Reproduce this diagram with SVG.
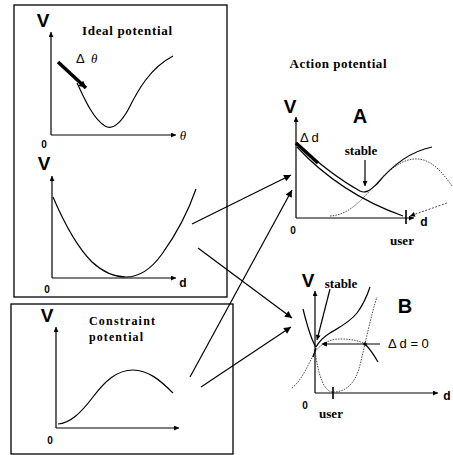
<svg xmlns="http://www.w3.org/2000/svg" width="453" height="455" viewBox="0 0 453 455">
<defs>
<marker id="ah" viewBox="0 0 10 10" refX="10" refY="5" markerWidth="7" markerHeight="5" markerUnits="userSpaceOnUse" orient="auto"><path d="M0,0 L10,5 L0,10 z" fill="#000"/></marker>
<marker id="ahb" viewBox="0 0 10 10" refX="10" refY="5" markerWidth="9" markerHeight="7" markerUnits="userSpaceOnUse" orient="auto"><path d="M0,0 L10,5 L0,10 z" fill="#000"/></marker>
</defs>
<style>
.box{fill:none;stroke:#000;stroke-width:1.3}
.ax{fill:none;stroke:#000;stroke-width:1.2;marker-end:url(#ah)}
.cv{fill:none;stroke:#000;stroke-width:1.2}
.dt{fill:none;stroke:#333;stroke-width:0.9;stroke-dasharray:1.5 1.2}
.con{fill:none;stroke:#000;stroke-width:1.2;marker-end:url(#ahb)}
.V{font-family:"Liberation Sans",Arial,sans-serif;font-weight:bold;font-size:19px}
.AB{font-family:"Liberation Sans",Arial,sans-serif;font-weight:bold;font-size:20px}
.lab{font-family:"Liberation Sans",Arial,sans-serif;font-weight:bold;font-size:12px}
.z{font-family:"Liberation Sans",Arial,sans-serif;font-weight:bold;font-size:10px}
.ttl{font-family:"Liberation Serif","Times New Roman",serif;font-weight:bold;font-size:13px}
.ttl2{font-family:"Liberation Serif","Times New Roman",serif;font-weight:bold;font-size:12px}
.sm{font-family:"Liberation Serif","Times New Roman",serif;font-weight:bold;font-size:13px}
.th{font-family:"Liberation Serif","Times New Roman",serif;font-style:italic;font-size:13px}
.dl{font-family:"Liberation Sans",Arial,sans-serif;font-size:13px}
</style>
<rect width="453" height="455" fill="#fff"/>

<g id="ideal-box">
<rect class="box" x="14" y="5" width="213" height="292"/>
<text class="ttl" x="127" y="35" text-anchor="middle" textLength="90" lengthAdjust="spacing">Ideal potential</text>
</g>

<g id="ideal-theta">
<text class="V" x="43" y="27" text-anchor="middle">V</text>
<line class="ax" x1="51" y1="135" x2="51" y2="32"/>
<line class="ax" x1="51" y1="135" x2="176" y2="135"/>
<text class="th" x="183" y="140" text-anchor="middle">θ</text>
<text class="z" x="44" y="148" text-anchor="middle">0</text>
<text class="dl" x="76" y="63">Δ</text>
<text class="th" x="91" y="63">θ</text>
<path class="cv" d="M77,83 C83,95 92,118 105,126 C112,130 120,124 128,110 C138,90 150,68 173,56"/>
<line x1="58" y1="62" x2="86" y2="88" stroke="#000" stroke-width="3.5" marker-end="url(#ahb)"/>
</g>

<g id="ideal-d">
<text class="V" x="44" y="170" text-anchor="middle">V</text>
<line class="ax" x1="52" y1="278" x2="52" y2="176"/>
<line class="ax" x1="52" y1="278" x2="176" y2="278"/>
<text class="lab" x="183" y="287" text-anchor="middle">d</text>
<text class="z" x="47" y="293" text-anchor="middle">0</text>
<path class="cv" d="M53,197 C62,218 75,245 92,262 C104,273 116,277 126,277 C140,277 152,268 162,254 C175,236 188,212 196,189"/>
</g>

<g id="constraint-box">
<rect class="box" x="11" y="304" width="222" height="150"/>
<text class="V" x="47" y="322" text-anchor="middle">V</text>
<text class="ttl2" x="89" y="325" textLength="66" lengthAdjust="spacing">Constraint</text>
<text class="ttl2" x="89" y="341" textLength="54" lengthAdjust="spacing">potential</text>
<line class="ax" x1="56" y1="428" x2="56" y2="327"/>
<line class="ax" x1="56" y1="428" x2="179" y2="428"/>
<text class="z" x="50" y="444" text-anchor="middle">0</text>
<path class="cv" d="M58,424 C70,423 80,414 93,397 C105,381 117,370 133,370 C148,370 160,380 173,393"/>
</g>

<text class="ttl" x="338" y="68" text-anchor="middle" textLength="97" lengthAdjust="spacing">Action potential</text>

<g id="action-A">
<text class="V" x="290" y="113" text-anchor="middle">V</text>
<text class="AB" x="360" y="123" text-anchor="middle">A</text>
<line class="ax" x1="296" y1="218" x2="296" y2="117"/>
<line class="ax" x1="296" y1="218" x2="414" y2="218"/>
<text class="lab" x="424" y="226" text-anchor="middle">d</text>
<text class="z" x="293" y="234" text-anchor="middle">0</text>
<text class="sm" x="402" y="245" text-anchor="middle">user</text>
<text class="dl" x="300" y="142">Δ d</text>
<text class="sm" x="361" y="155" text-anchor="middle">stable</text>
<line class="ax" x1="365" y1="160" x2="365" y2="186"/>
<path class="dt" d="M330,216 C348,215 360,202 375,185 C390,168 404,158 418,159 C432,160 442,172 452,186"/>
<path class="cv" stroke-width="0.9" d="M297,147 C322,174 358,200 403,216"/>
<path class="cv" d="M296,143 C318,163 340,180 360,191 C366,194 370,190 377,184 C390,168 408,152 432,147"/>
<line x1="296" y1="143" x2="318" y2="163" stroke="#000" stroke-width="3.5"/>
<line x1="406" y1="210" x2="406" y2="224" stroke="#000" stroke-width="1.6"/>
<line x1="447" y1="203" x2="410" y2="216" stroke="#333" stroke-width="0.9" stroke-dasharray="2 1.5" marker-end="url(#ah)"/>
</g>

<g id="action-B">
<text class="V" x="308" y="287" text-anchor="middle">V</text>
<text class="sm" x="341" y="288" text-anchor="middle">stable</text>
<text class="AB" x="405" y="313" text-anchor="middle">B</text>
<text class="dl" x="388" y="348">Δ d = 0</text>
<line class="ax" x1="315" y1="393" x2="315" y2="291"/>
<line class="ax" x1="315" y1="393" x2="438" y2="393"/>
<text class="lab" x="447" y="400" text-anchor="middle">d</text>
<text class="z" x="305" y="409" text-anchor="middle">0</text>
<text class="sm" x="331" y="418" text-anchor="middle">user</text>
<path class="dt" d="M292,388 C302,380 308,365 315,352 C322,342 332,339 340,339 C352,339 360,341 365,344"/>
<path class="dt" d="M315,350 C318,375 324,392 333,392 C345,392 355,385 360,365 C365,345 371,315 377,297"/>
<path class="cv" d="M365,344 C370,349 374,355 378,362"/>
<path class="cv" d="M303,309 C307,325 311,340 316,347"/>
<path class="cv" d="M313,357 L316,348"/>
<path class="cv" d="M316,347 C320,340 325,336 330,333 C340,327 350,322 357,313 C363,305 367,296 370,287"/>
<line class="ax" x1="380" y1="344" x2="322" y2="344"/>
<circle cx="325" cy="344" r="1.8" fill="#000"/>
<circle cx="365" cy="344" r="1.8" fill="#000"/>
<line class="ax" x1="330" y1="289" x2="317" y2="340"/>
<line x1="333" y1="387" x2="333" y2="399" stroke="#000" stroke-width="1.6"/>
</g>

<g id="connectors">
<line class="con" x1="192" y1="224" x2="291" y2="175"/>
<line class="con" x1="198" y1="248" x2="292" y2="318"/>
<line class="con" x1="190" y1="377" x2="292" y2="190"/>
<line class="con" x1="201" y1="387" x2="291" y2="327"/>
</g>
</svg>
